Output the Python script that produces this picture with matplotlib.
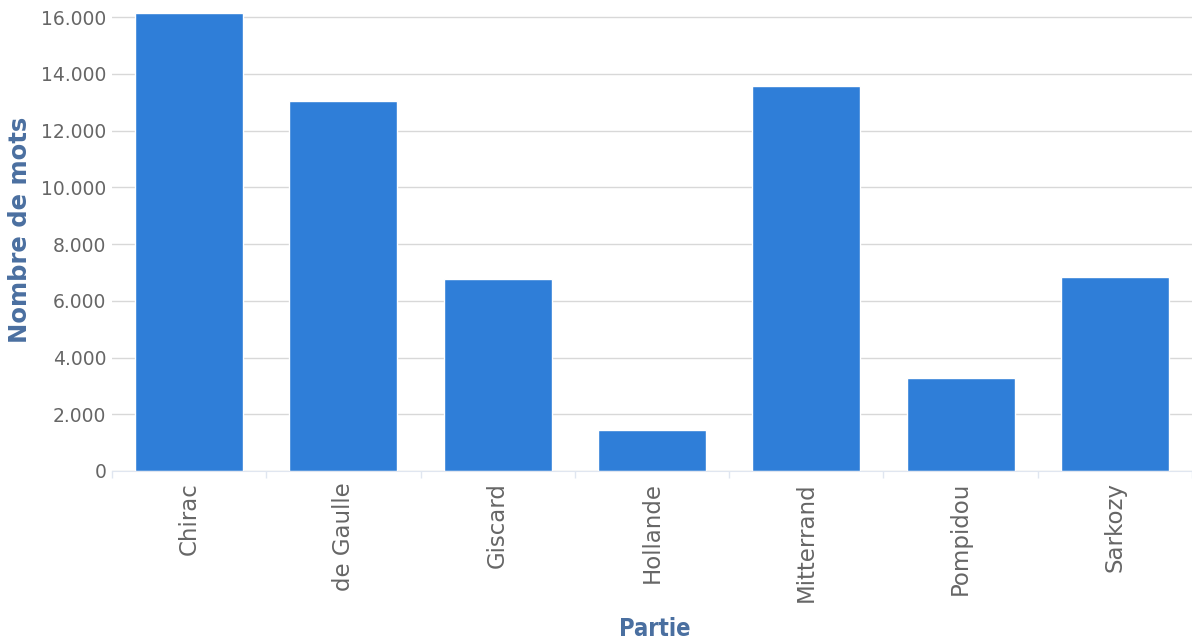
import matplotlib.pyplot as plt
from matplotlib.ticker import FuncFormatter, FixedLocator

# data
presidents = ['Chirac', 'de Gaulle', 'Giscard', 'Hollande', 'Mitterrand', 'Pompidou', 'Sarkozy']
mots = [16150, 13040, 6780, 1450, 13570, 3280, 6840]
yticks = [0, 2000, 4000, 6000, 8000, 10000, 12000, 14000, 16000]

fig = plt.figure(figsize=(11.92, 6.43), dpi=100)
ax = fig.add_axes([0.094, 0.2675, 0.906, 0.7325])

x = list(range(len(presidents)))
ax.bar(x, mots, width=0.7, color='#2f7ed8', edgecolor='#ffffff', linewidth=1, zorder=3)

ax.set_xlim(-0.5, len(presidents) - 0.5)
ax.set_ylim(0, 16600)
ax.set_yticks(yticks)
ax.yaxis.set_major_formatter(FuncFormatter(lambda v, p: '{:,.0f}'.format(v).replace(',', '.')))
ax.grid(axis='y', color='#d8d8d8', linewidth=1, zorder=0)

ax.set_xticks(x)
ax.set_xticklabels(presidents, rotation=90, fontsize=16.5, color='#666666', family='DejaVu Sans')
ax.xaxis.set_minor_locator(FixedLocator([i + 0.5 for i in range(-1, len(presidents))]))
ax.tick_params(axis='x', which='major', length=0, pad=8)
ax.tick_params(axis='x', which='minor', length=5, color='#e0e6f0', width=1)
ax.tick_params(axis='y', length=0, pad=4)
for lab in ax.get_yticklabels():
    lab.set_fontsize(13.5)
    lab.set_color('#666666')
    lab.set_family('DejaVu Sans')

for s in ['top', 'right', 'left']:
    ax.spines[s].set_visible(False)
ax.spines['bottom'].set_color('#e0e6f0')
ax.spines['bottom'].set_zorder(4)

# axis titles placed directly on the figure
fig.text(20 / 1192, 1 - 230 / 643, 'Nombre de mots', rotation=90, ha='center', va='center',
         fontsize=17.5, fontweight='bold', color='#4a6fa0', family='DejaVu Sans')
fig.text(655 / 1192, 1 - 629 / 643, 'Partie', ha='center', va='center',
         fontsize=17, fontweight='bold', color='#4a6fa0', family='DejaVu Sans',
         fontstretch='condensed')

fig.savefig('out.png', dpi=100)
